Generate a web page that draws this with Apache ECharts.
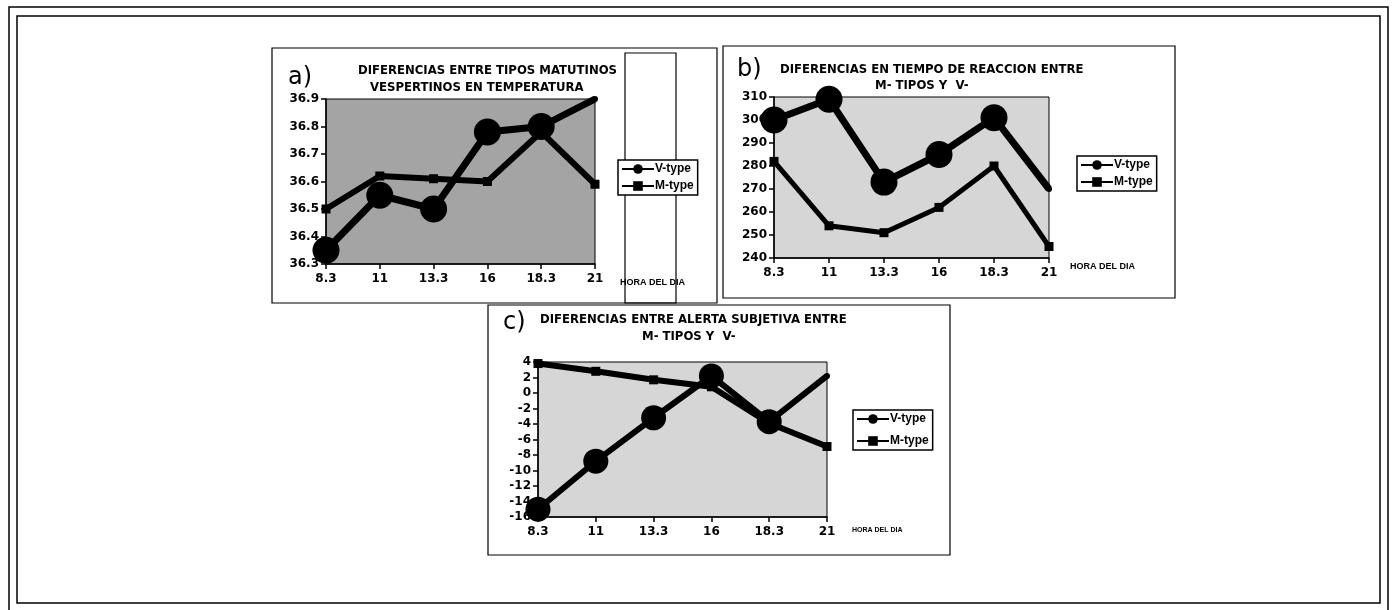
<!DOCTYPE html>
<html>
<head>
<meta charset="utf-8">
<script src="https://cdn.jsdelivr.net/npm/echarts@6/dist/echarts.min.js"></script>
<style>
html,body{margin:0;padding:0;background:#fff;}
#c{width:1394px;height:610px;}
</style>
</head>
<body>
<div id="c"></div>
<script>
// ---- data ----
const hours = ['8.3', '11', '13.3', '16', '18.3', '21'];
const tempV = [36.35, 36.55, 36.5, 36.78, 36.8, 36.9];
const tempM = [36.5, 36.62, 36.61, 36.6, 36.78, 36.59];
const rtV = [300, 309, 273, 285, 301, 270];
const rtM = [282, 254, 251, 262, 280, 245];
const alertV = [-15, -8.8, -3.2, 2.2, -3.7, 2.2];
const alertM = [3.8, 2.8, 1.7, 0.8, -3.9, -6.9];
const seriesNames = ['V-type', 'M-type'];
const titleA = ['DIFERENCIAS ENTRE TIPOS MATUTINOS', 'VESPERTINOS EN TEMPERATURA'];
const titleB = ['DIFERENCIAS EN TIEMPO DE REACCION ENTRE', 'M- TIPOS Y  V-'];
const titleC = ['DIFERENCIAS ENTRE ALERTA SUBJETIVA ENTRE', 'M- TIPOS Y  V-'];
const xName = 'HORA DEL DIA';

const FONT = '"Liberation Sans", Arial, sans-serif';
const DFONT = '"DejaVu Sans", "Liberation Sans", sans-serif';
const chart = echarts.init(document.getElementById('c'), null, {renderer: 'canvas'});

function xAx(gi) {
  return {
    type: 'category', gridIndex: gi, data: hours, boundaryGap: false,
    axisLine: {show: true, onZero: false, lineStyle: {color: '#000', width: 1.5}},
    axisTick: {show: true, length: 5, lineStyle: {color: '#000', width: 1.5}},
    axisLabel: {color: '#000', fontFamily: DFONT, fontWeight: 'bold', fontSize: 12, margin: 9},
    splitLine: {show: false}
  };
}
function yAx(gi, min, max, interval, dec) {
  return {
    type: 'value', gridIndex: gi, min: min, max: max, interval: interval,
    axisLine: {show: true, onZero: false, lineStyle: {color: '#000', width: 1.5}},
    axisTick: {show: true, length: 5, lineStyle: {color: '#000', width: 1.5}},
    axisLabel: {color: '#000', fontFamily: DFONT, fontWeight: 'bold', fontSize: 12, margin: 7,
      formatter: v => v.toFixed(dec)},
    splitLine: {show: false}
  };
}
function vSeries(gi, data, big, lw) {
  return {
    name: seriesNames[0], type: 'line', xAxisIndex: gi, yAxisIndex: gi, data: data,
    symbol: 'circle', symbolSize: (v, p) => p.dataIndex === data.length - 1 ? 6 : big,
    lineStyle: {color: '#000', width: lw}, itemStyle: {color: '#000'},
    animation: false, z: 4
  };
}
function mSeries(gi, data, lw) {
  return {
    name: seriesNames[1], type: 'line', xAxisIndex: gi, yAxisIndex: gi, data: data,
    symbol: 'rect', symbolSize: 9,
    lineStyle: {color: '#000', width: lw}, itemStyle: {color: '#000'},
    animation: false, z: 3
  };
}
function legend(left, top, gap) {
  return {
    left: left, top: top, orient: 'vertical', data: seriesNames,
    borderColor: '#000', borderWidth: 1.5, borderRadius: 0, padding: [3, 4, 3, 3],
    itemGap: gap, itemWidth: 32, itemHeight: 12, selectedMode: false,
    textStyle: {color: '#000', fontFamily: FONT, fontWeight: 'bold', fontSize: 12, padding: [0, 0, 0, -4]},
    backgroundColor: '#fff'
  };
}
function txt(x, y, s, font, align) {
  return {type: 'text', x: x, y: y, z: 10,
    style: {text: s, font: font, fill: '#000', textAlign: align || 'left', textVerticalAlign: 'middle'}};
}
function box(x, y, w, h, lw) {
  return {type: 'rect', z: 0, shape: {x: x, y: y, width: w, height: h},
    style: {fill: 'none', stroke: '#000', lineWidth: lw || 1.5}};
}
const TF = 'bold 11.7px ' + DFONT;
const LF = '24px "DejaVu Sans", ' + FONT;

const option = {
  backgroundColor: '#fff',
  animation: false,
  grid: [
    {left: 326, top: 99, width: 269, height: 165, show: true, backgroundColor: '#a4a4a4', borderColor: '#000', borderWidth: 1},
    {left: 774, top: 97, width: 275, height: 161, show: true, backgroundColor: '#d6d6d6', borderColor: '#000', borderWidth: 1},
    {left: 538, top: 362, width: 289, height: 155, show: true, backgroundColor: '#d6d6d6', borderColor: '#000', borderWidth: 1}
  ],
  xAxis: [xAx(0), xAx(1), xAx(2)],
  yAxis: [yAx(0, 36.3, 36.9, 0.1, 1), yAx(1, 240, 310, 10, 0), yAx(2, -16, 4, 2, 0)],
  legend: [legend(618, 160, 5), legend(1077, 156, 5), legend(853, 410, 10)],
  series: [
    vSeries(0, tempV, 27, 7), mSeries(0, tempM, 6),
    vSeries(1, rtV, 27, 7), mSeries(1, rtM, 5),
    vSeries(2, alertV, 25, 6), mSeries(2, alertM, 6)
  ],
  graphic: [
    box(9, 7, 1379, 610, 1.5),
    box(17, 16, 1363, 587, 1.5),
    box(272, 48, 445, 255, 1.2),
    box(625, 53, 51, 250, 1.2),
    box(723, 46, 452, 252, 1.2),
    box(488, 305, 462, 250, 1.2),
    txt(288, 78, 'a)', LF),
    txt(358, 71, titleA[0], TF),
    txt(370, 88, titleA[1], TF),
    txt(737, 70, 'b)', LF),
    txt(780, 70, titleB[0], TF),
    txt(875, 86, titleB[1], TF),
    txt(503, 323, 'c)', LF),
    txt(540, 320, titleC[0], TF),
    txt(642, 337, titleC[1], TF),
    txt(620, 283, xName, 'bold 9px ' + FONT),
    txt(1070, 267, xName, 'bold 9px ' + FONT),
    txt(852, 530, xName, '900 7px ' + FONT)
  ]
};
chart.setOption(option);
</script>
</body>
</html>
